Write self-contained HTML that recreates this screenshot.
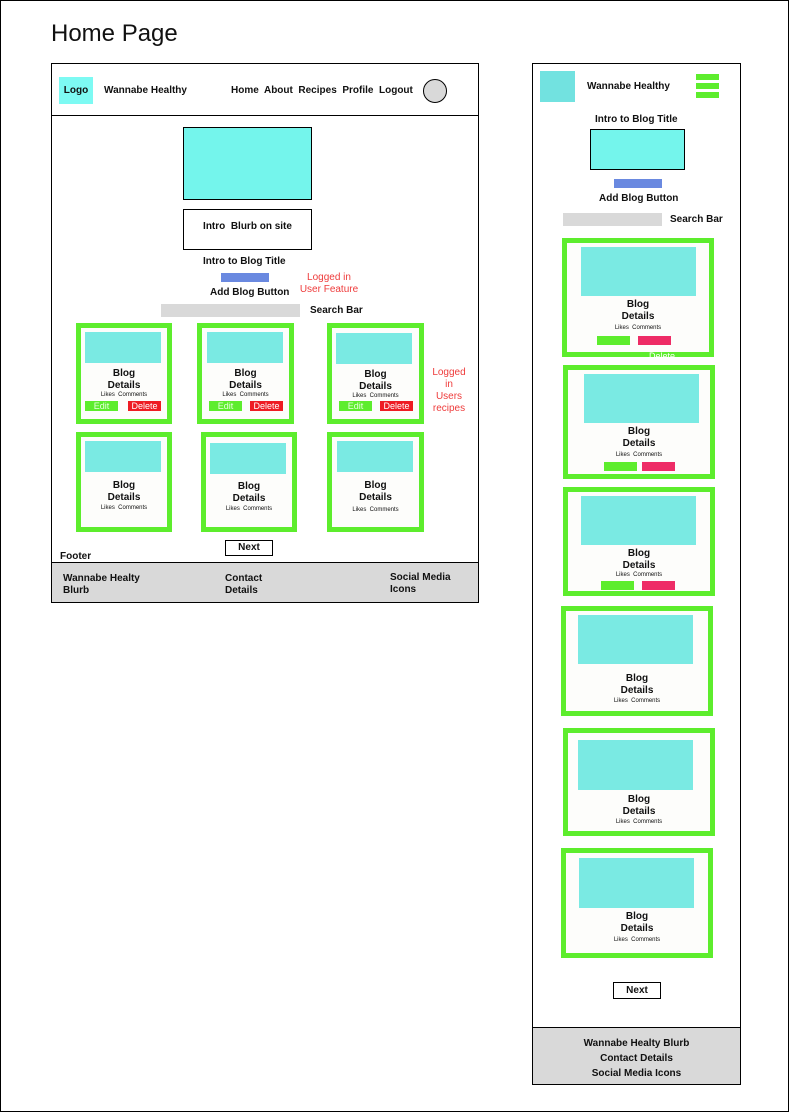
<!DOCTYPE html>
<html><head><meta charset="utf-8"><style>
*{box-sizing:border-box;margin:0;padding:0}
body{width:789px;height:1112px;position:relative;background:#fff;font-family:"Liberation Sans",sans-serif;color:#111;overflow:hidden}
.a{position:absolute}
.b{font-weight:bold;font-size:10px}
.card{position:absolute;border:5px solid #5ded2d;background:#fdfdfb}
.img{position:absolute;background:#7aeae3}
.t{position:absolute;left:0;right:0;text-align:center;font-weight:bold;font-size:10px;line-height:12px}
.s{position:absolute;left:0;right:0;text-align:center;font-size:6px}
.ed{position:absolute;background:#5ded2d;color:#e8ffe0;font-size:9px;text-align:center;line-height:10px;height:10px}
.dl{position:absolute;background:#ee1c24;color:#fff;font-size:9px;text-align:center;line-height:10px;height:10px}
</style></head><body>
<div class="a" style="left:0;top:0;width:789px;height:1112px;border:1px solid #000"></div>
<div class="a" style="left:51px;top:20px;font-size:24px">Home Page</div>

<!-- desktop -->
<div class="a" style="left:51px;top:63px;width:428px;height:540px;border:1px solid #000"></div>
<div class="a" style="left:51px;top:115px;width:428px;height:1px;background:#000"></div>
<div class="a b" style="left:59px;top:77px;width:34px;height:27px;background:#7dfaf3;line-height:27px;text-align:center">Logo</div>
<div class="a b" style="left:104px;top:85px">Wannabe Healthy</div>
<div class="a b" style="left:231px;top:85px">Home&nbsp; About&nbsp; Recipes&nbsp; Profile&nbsp; Logout</div>
<div class="a" style="left:423px;top:79px;width:24px;height:24px;border-radius:50%;border:1px solid #000;background:#d9d9d9"></div>
<div class="a" style="left:183px;top:127px;width:129px;height:73px;border:1px solid #000;background:#74f5ec"></div>
<div class="a b" style="left:183px;top:209px;width:129px;height:41px;border:1px solid #000;text-align:center;line-height:34px">Intro&nbsp; Blurb on site</div>
<div class="a b" style="left:203px;top:256px">Intro to Blog Title</div>
<div class="a" style="left:221px;top:273px;width:48px;height:9px;background:#6a89e0"></div>
<div class="a b" style="left:210px;top:287px">Add Blog Button</div>
<div class="a" style="left:298px;top:272px;color:#ee3b3b;font-size:10px;line-height:12px;text-align:center;width:62px">Logged in<br>User Feature</div>
<div class="a" style="left:161px;top:304px;width:139px;height:13px;background:#d9d9d9"></div>
<div class="a b" style="left:310px;top:305px">Search Bar</div>
<div class="a" style="left:428px;top:367px;color:#ee3b3b;font-size:10px;line-height:12px;text-align:center;width:42px">Logged<br>in<br>Users<br>recipes</div>

<div class="card" style="left:76px;top:323px;width:96px;height:101px"><div class="img" style="left:4px;top:4px;width:76px;height:31px"></div><div class="t" style="top:40px">Blog<br>Details</div><div class="s" style="top:64px">Likes&nbsp; Comments</div><div class="ed" style="left:4px;top:73px;width:33px">Edit</div><div class="dl" style="left:47px;top:73px;width:33px">Delete</div></div>
<div class="card" style="left:197px;top:323px;width:97px;height:101px"><div class="img" style="left:5px;top:4px;width:76px;height:31px"></div><div class="t" style="top:40px">Blog<br>Details</div><div class="s" style="top:64px">Likes&nbsp; Comments</div><div class="ed" style="left:7px;top:73px;width:33px">Edit</div><div class="dl" style="left:48px;top:73px;width:33px">Delete</div></div>
<div class="card" style="left:327px;top:323px;width:97px;height:101px"><div class="img" style="left:4px;top:5px;width:76px;height:31px"></div><div class="t" style="top:41px">Blog<br>Details</div><div class="s" style="top:65px">Likes&nbsp; Comments</div><div class="ed" style="left:7px;top:73px;width:33px">Edit</div><div class="dl" style="left:48px;top:73px;width:33px">Delete</div></div>
<div class="card" style="left:76px;top:432px;width:96px;height:100px"><div class="img" style="left:4px;top:4px;width:76px;height:31px"></div><div class="t" style="top:43px">Blog<br>Details</div><div class="s" style="top:68px">Likes&nbsp; Comments</div></div>
<div class="card" style="left:201px;top:432px;width:96px;height:100px"><div class="img" style="left:4px;top:6px;width:76px;height:31px"></div><div class="t" style="top:44px">Blog<br>Details</div><div class="s" style="top:69px">Likes&nbsp; Comments</div></div>
<div class="card" style="left:327px;top:432px;width:97px;height:100px"><div class="img" style="left:5px;top:4px;width:76px;height:31px"></div><div class="t" style="top:43px">Blog<br>Details</div><div class="s" style="top:70px">Likes&nbsp; Comments</div></div>

<div class="a b" style="left:225px;top:540px;width:48px;height:16px;border:1px solid #000;text-align:center;line-height:14px">Next</div>
<div class="a b" style="left:60px;top:551px">Footer</div>
<div class="a" style="left:51px;top:562px;width:428px;height:41px;background:#d9d9d9;border:1px solid #000"></div>
<div class="a b" style="left:63px;top:573px;line-height:12px">Wannabe Healty<br>Blurb</div>
<div class="a b" style="left:225px;top:573px;line-height:12px">Contact<br>Details</div>
<div class="a b" style="left:390px;top:572px;line-height:12px">Social Media<br>Icons</div>

<!-- mobile -->
<div class="a" style="left:532px;top:63px;width:209px;height:1022px;border:1px solid #000"></div>
<div class="a" style="left:540px;top:71px;width:35px;height:31px;background:#72e2e0"></div>
<div class="a b" style="left:587px;top:81px">Wannabe Healthy</div>
<div class="a" style="left:696px;top:74px;width:23px;height:6px;background:#5ded2d"></div>
<div class="a" style="left:696px;top:83px;width:23px;height:6px;background:#5ded2d"></div>
<div class="a" style="left:696px;top:92px;width:23px;height:6px;background:#5ded2d"></div>
<div class="a b" style="left:595px;top:114px">Intro to Blog Title</div>
<div class="a" style="left:590px;top:129px;width:95px;height:41px;border:1px solid #000;background:#74f5ec"></div>
<div class="a" style="left:614px;top:179px;width:48px;height:9px;background:#6a89e0"></div>
<div class="a b" style="left:599px;top:193px">Add Blog Button</div>
<div class="a" style="left:563px;top:213px;width:99px;height:13px;background:#d9d9d9"></div>
<div class="a b" style="left:670px;top:214px">Search Bar</div>

<div class="card" style="left:562px;top:238px;width:152px;height:119px"><div class="img" style="left:14px;top:4px;width:115px;height:49px"></div><div class="t" style="top:56px">Blog<br>Details</div><div class="s" style="top:82px">Likes&nbsp; Comments</div><div class="a" style="left:30px;top:93px;width:33px;height:9px;background:#5ded2d"></div><div class="a" style="left:71px;top:93px;width:33px;height:9px;background:#ee2c66"></div></div>
<div class="a" style="left:649px;top:351px;color:#fff;font-size:9px">Delete</div>
<div class="card" style="left:563px;top:365px;width:152px;height:114px"><div class="img" style="left:16px;top:4px;width:115px;height:49px"></div><div class="t" style="top:56px">Blog<br>Details</div><div class="s" style="top:82px">Likes&nbsp; Comments</div><div class="a" style="left:36px;top:92px;width:33px;height:9px;background:#5ded2d"></div><div class="a" style="left:74px;top:92px;width:33px;height:9px;background:#ee2c66"></div></div>
<div class="card" style="left:563px;top:487px;width:152px;height:109px"><div class="img" style="left:13px;top:4px;width:115px;height:49px"></div><div class="t" style="top:56px">Blog<br>Details</div><div class="s" style="top:80px">Likes&nbsp; Comments</div><div class="a" style="left:33px;top:89px;width:33px;height:9px;background:#5ded2d"></div><div class="a" style="left:74px;top:89px;width:33px;height:9px;background:#ee2c66"></div></div>
<div class="card" style="left:561px;top:606px;width:152px;height:110px"><div class="img" style="left:12px;top:4px;width:115px;height:49px"></div><div class="t" style="top:62px">Blog<br>Details</div><div class="s" style="top:87px">Likes&nbsp; Comments</div></div>
<div class="card" style="left:563px;top:728px;width:152px;height:108px"><div class="img" style="left:10px;top:7px;width:115px;height:50px"></div><div class="t" style="top:61px">Blog<br>Details</div><div class="s" style="top:86px">Likes&nbsp; Comments</div></div>
<div class="card" style="left:561px;top:848px;width:152px;height:110px"><div class="img" style="left:13px;top:5px;width:115px;height:50px"></div><div class="t" style="top:58px">Blog<br>Details</div><div class="s" style="top:84px">Likes&nbsp; Comments</div></div>

<div class="a b" style="left:613px;top:982px;width:48px;height:17px;border:1px solid #000;text-align:center;line-height:15px">Next</div>
<div class="a" style="left:532px;top:1027px;width:209px;height:58px;background:#d9d9d9;border:1px solid #000"></div>
<div class="a b" style="left:532px;top:1036px;width:209px;text-align:center;line-height:15px">Wannabe Healty Blurb<br>Contact Details<br>Social Media Icons</div>
</body></html>
